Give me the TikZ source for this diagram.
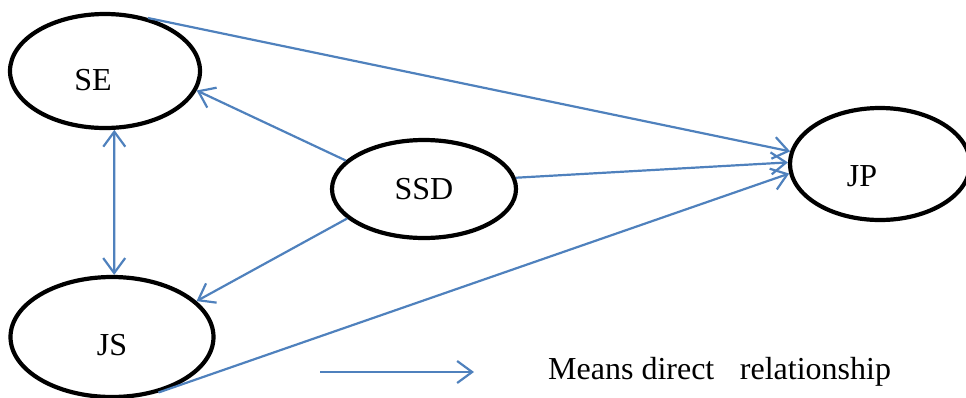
\documentclass[tikz,border=0pt]{standalone}
\usepackage{fontspec}
\setmainfont{Liberation Serif}
\usetikzlibrary{shapes.geometric,arrows.meta}
\definecolor{arrowblue}{HTML}{4F81BD}
\tikzset{
  lbl/.style={font=\fontsize{32}{38}\selectfont},
  oval/.style={ellipse,draw=black,line width=4.2pt,inner sep=0pt,lbl},
  rel/.style={draw=arrowblue,line width=2.2pt,-{Straight Barb[length=15pt,width=22pt,line width=2.2pt]}},
  birel/.style={rel,{Straight Barb[length=15pt,width=22pt,line width=2.2pt]}-{Straight Barb[length=15pt,width=22pt,line width=2.2pt]}}
}
\begin{document}
\begin{tikzpicture}[x=1pt,y=-1pt]
\useasboundingbox (0,0) rectangle (966,397);
\clip (0,0) rectangle (966,397);
\node[oval,minimum width=190pt,minimum height=114pt] (SE) at (105,71) {};
\node[lbl] (SEt) at (93,80) {SE};
\node[oval,minimum width=184pt,minimum height=98pt] (SSD) at (424,189) {SSD};
\node[oval,minimum width=180pt,minimum height=112pt] (JP) at (880,164) {};
\node[lbl] (JPt) at (862,176) {JP};
\node[oval,minimum width=203pt,minimum height=120pt] (JS) at (112,337) {};
\node[lbl] (JSt) at (112,345) {JS};
\draw[rel] (SE.51) -- (JP.172);
\draw[rel] (SSD.160) -- (SE.-12);
\draw[birel] (SE.-81) -- (JS.88);
\draw[rel] (SSD.201) -- (JS.23);
\draw[rel] (SSD.7) -- (JP.179);
\draw[rel] (JS.-50) -- (JP.-174);
\coordinate (L1) at (320,372);
\coordinate (L2) at (474,372);
\draw[rel] (L1) -- (L2);
\node[anchor=west,lbl,inner sep=0pt] (legend) at (548,372) {Means direct\hspace{0.8em}relationship};
\end{tikzpicture}
\end{document}
